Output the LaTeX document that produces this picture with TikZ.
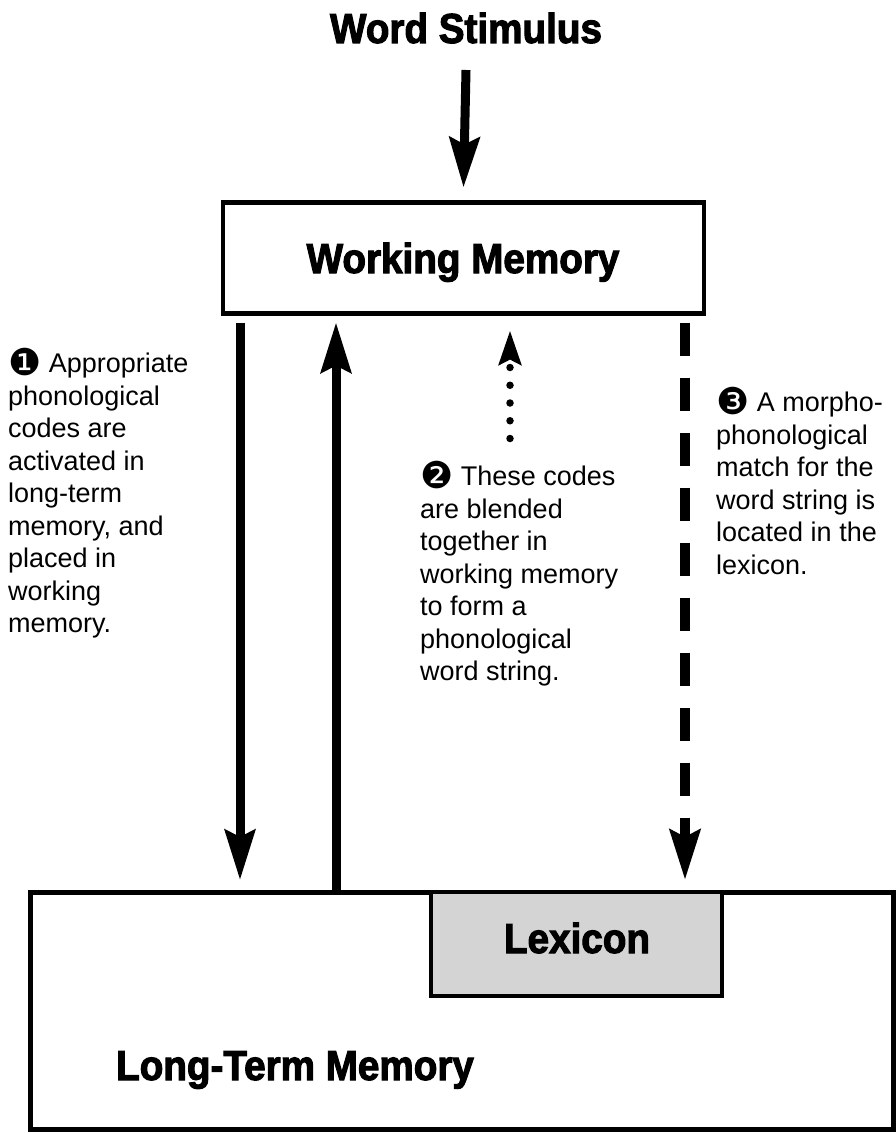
\documentclass[tikz,border=0pt]{standalone}
\usepackage{fontspec}
\setmainfont{Liberation Sans}
\newfontfamily\bodyfont{Liberation Sans}
\newfontfamily\heavyfont{Liberation Sans Bold}[FakeBold=2.5,FakeStretch=0.92]
\newfontfamily\dingfont{DejaVu Sans}
\newcommand{\cnum}[1]{\raisebox{-2.5pt}{\smash{\dingfont\fontsize{37}{37}\selectfont #1}}}
\usetikzlibrary{arrows.meta}
\begin{document}
\begin{tikzpicture}[x=1pt,y=-1pt,
  heading/.style={font=\heavyfont\fontsize{42}{48}\selectfont, inner sep=0pt, anchor=base},
  box/.style={draw, line width=4.5pt, outer sep=0pt, inner sep=0pt},
  body/.style={font=\bodyfont\fontsize{27}{32.5}\selectfont, align=left, inner sep=0pt, anchor=north west},
  shaft/.style={line width=9pt},
  bigtip/.style={-{Stealth[length=50pt,width=30pt,inset=7pt]}},
  dashedshaft/.style={line width=10pt, dash pattern=on 33pt off 22pt},
  dotshaft/.style={line width=7.5pt, line cap=round, dash pattern=on 0pt off 17.75pt,
    -{Stealth[length=34pt,width=22pt,inset=5pt]}}
]
\useasboundingbox (0,0) rectangle (895,1134);

% boxes
\node[box, minimum width=481pt, minimum height=111pt] (wm) at (463.5,258) {};
\node[box, line width=5pt, minimum width=863pt, minimum height=237pt] (ltm) at (461.5,1010.5) {};
\node[box, fill=black!17, minimum width=291pt, minimum height=104pt] (lex) at (576.5,944) {};

% headings
\node[heading] (ws) at (466,43) {Word Stimulus};
\node[heading] (wmt) at (463,273) {Working Memory};
\node[heading] (lext) at (577,953) {Lexicon};
\node[heading] (ltmt) at (295,1080) {Long-Term Memory};

% x positions of connectors
\coordinate (xa) at (240,0);
\coordinate (xb) at (336,0);
\coordinate (xc) at (510,0);
\coordinate (xd) at (685,0);

% end points
\path (ws.base) ++(0,27) coordinate (wss);
\path (wm.north) ++(0,-15) coordinate (wmn);
\path (wm.south -| xa) ++(0,9) coordinate (a1s);
\path (ltm.north -| xa) ++(0,-12) coordinate (a1e);
\path (ltm.north -| xb) coordinate (a2s);
\path (wm.south -| xb) ++(0,9) coordinate (a2e);
\path (wm.south -| xc) ++(0,125) coordinate (a3s);
\path (wm.south -| xc) ++(0,17) coordinate (a3e);
\path (wm.south -| xd) ++(0,9) coordinate (a4s);
\path (ltm.north -| xd) ++(0,-12) coordinate (a4e);

% connectors
\draw[shaft, bigtip] (wss) -- (wmn);
\draw[shaft, bigtip] (a1s) -- (a1e);
\draw[shaft, bigtip] (a2s) -- (a2e);
\draw[dotshaft] (a3s) -- (a3e);
\draw[dashedshaft, bigtip] (a4s) -- (a4e);

% explanatory texts
\node[body] (t1) at (8,353) {\cnum{❶} Appropriate\\phonological\\codes are\\activated in\\long-term\\memory, and\\placed in\\working\\memory.};
\node[body] (t2) at (420,466) {\cnum{❷} These codes\\are blended\\together in\\working memory\\to form a\\phonological\\word string.};
\node[body] (t3) at (716,392) {\cnum{❸} A morpho-\\phonological\\match for the\\word string is\\located in the\\lexicon.};
\end{tikzpicture}
\end{document}
